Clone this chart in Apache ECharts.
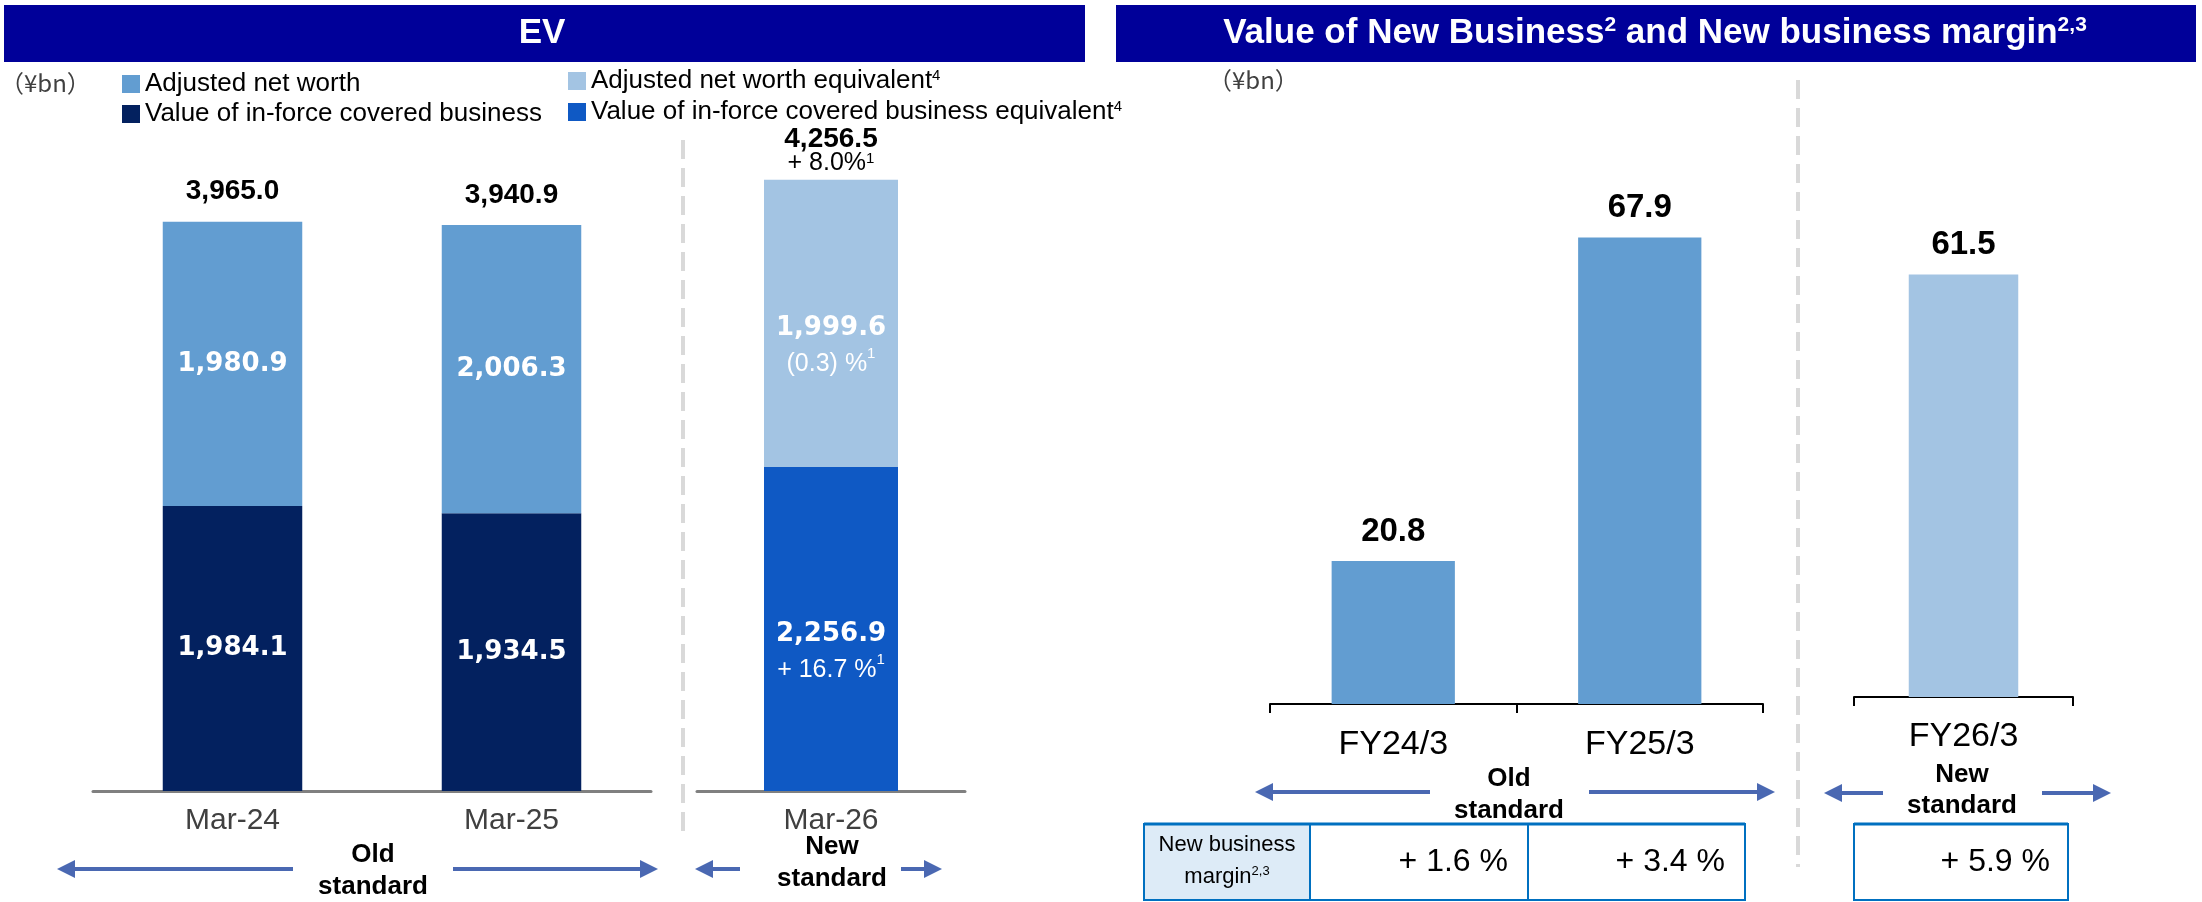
<!DOCTYPE html>
<html>
<head>
<meta charset="utf-8">
<script src="https://cdn.jsdelivr.net/npm/echarts@6/dist/echarts.min.js"></script>
<style>
  html, body { margin: 0; padding: 0; background: #fff; }
  #chart { width: 2202px; height: 902px; }
</style>
</head>
<body>
<div id="chart"></div>
<script>
// EV (stacked) - old standard
const evCategoriesOld = ['Mar-24', 'Mar-25'];
const vifOld = [1984.1, 1934.5];
const anwOld = [1980.9, 2006.3];
const evTotalOld = [3965.0, 3940.9];

// EV - new standard
const evCategoriesNew = ['Mar-26'];
const vifNew = [2256.9];
const anwNew = [1999.6];
const evTotalNew = [4256.5];
const vifNewChange = ['+ 16.7 %'];
const anwNewChange = ['(0.3) %'];
const evTotalNewChange = ['+ 8.0%'];

// Value of new business
const vnbCategoriesOld = ['FY24/3', 'FY25/3'];
const vnbOld = [20.8, 67.9];
const vnbCategoriesNew = ['FY26/3'];
const vnbNew = [61.5];

// New business margin table
const marginOld = ['+ 1.6 %', '+ 3.4 %'];
const marginNew = ['+ 5.9 %'];

const FONT = '"Liberation Sans", Arial, sans-serif';
const WIDE = '"DejaVu Sans", Verdana, sans-serif';
const C = {
  header: '#000099',
  anw: '#629dd1',
  vif: '#03215f',
  anwEq: '#a3c4e3',
  vifEq: '#0f59c4',
  arrow: '#4a68b2',
  dash: '#d9d9d9',
  table: '#0070c0',
  tableFill: '#ddebf7'
};

const fmt = v => v.toLocaleString('en-US', { minimumFractionDigits: 1, maximumFractionDigits: 1 });
const sup = (size) => ({ fontSize: size, verticalAlign: 'top', lineHeight: size, fontFamily: FONT });

const innerLabel = {
  show: true,
  position: 'inside',
  color: '#fff',
  fontFamily: WIDE,
  fontWeight: 'bold',
  fontSize: 26,
  formatter: p => fmt(p.value)
};

function innerChangeLabel(changes) {
  return {
    show: true,
    position: 'inside',
    offset: [0, 23],
    formatter: p => `{v|${fmt(p.value)}}\n{c|${changes[p.dataIndex]}}{s|1}`,
    rich: {
      v: { color: '#fff', fontFamily: WIDE, fontWeight: 'bold', fontSize: 26, lineHeight: 36 },
      c: { color: '#fff', fontFamily: FONT, fontSize: 25, lineHeight: 36 },
      s: Object.assign({ color: '#fff' }, sup(15))
    }
  };
}

// arrow from x1 (line start) to tip x2
function arrow(x1, x2, y) {
  const dir = Math.sign(x2 - x1);
  const head = 18;
  return [
    { type: 'line', shape: { x1: x1, y1: y, x2: x2 - dir * head, y2: y }, style: { stroke: C.arrow, lineWidth: 4 } },
    { type: 'polygon', shape: { points: [[x2, y], [x2 - dir * head, y - 9], [x2 - dir * head, y + 9]] }, style: { fill: C.arrow } }
  ];
}

function text(x, y, str, opts) {
  return {
    type: 'text',
    x: x, y: y,
    style: Object.assign({
      text: str,
      fontFamily: FONT,
      fontSize: 24,
      fill: '#000',
      align: 'center',
      verticalAlign: 'middle'
    }, opts || {})
  };
}

function hiddenY(idx, max) {
  return { type: 'value', gridIndex: idx, min: 0, max: max, show: false, splitLine: { show: false } };
}

const evAxisStyle = {
  axisLine: { lineStyle: { color: '#808080', width: 3 } },
  axisTick: { show: false },
  axisLabel: { color: '#404040', fontSize: 30, fontFamily: FONT, margin: 15 }
};
const vnbAxisStyle = {
  axisLine: { lineStyle: { color: '#000', width: 2 } },
  axisTick: { show: true, length: 9, lineStyle: { color: '#000', width: 2 } },
  axisLabel: { color: '#000', fontSize: 34, fontFamily: FONT, margin: 24 }
};

const chart = echarts.init(document.getElementById('chart'));

const graphics = [
  // header bands
  { type: 'rect', shape: { x: 4, y: 5, width: 1081, height: 57 }, style: { fill: C.header } },
  { type: 'rect', shape: { x: 1116, y: 5, width: 1080, height: 57 }, style: { fill: C.header } },
  text(542, 33, 'EV', { fill: '#fff', fontWeight: 'bold', fontSize: 35 }),
  text(1655, 33, '{t|Value of New Business}{s|2}{t| and New business margin}{s|2,3}', {
    rich: {
      t: { fill: '#fff', fontWeight: 'bold', fontSize: 35, fontFamily: FONT, lineHeight: 36 },
      s: Object.assign({ fill: '#fff', fontWeight: 'bold' }, sup(21))
    }
  }),
  // units
  text(0, 83, '（¥bn）', { align: 'left', fontSize: 24, fill: '#404040', fontFamily: '"Noto Sans CJK JP", ' + FONT }),
  text(1208, 80, '（¥bn）', { align: 'left', fontSize: 24, fill: '#404040', fontFamily: '"Noto Sans CJK JP", ' + FONT }),
  // dashed dividers
  { type: 'line', shape: { x1: 683, y1: 140, x2: 683, y2: 840 }, style: { stroke: C.dash, lineWidth: 4, lineDash: [19, 9] } },
  { type: 'line', shape: { x1: 1798, y1: 80, x2: 1798, y2: 867 }, style: { stroke: C.dash, lineWidth: 4, lineDash: [19, 9] } },
  // standard arrows + labels
  ...arrow(293, 57, 869), ...arrow(453, 658, 869),
  text(373, 871, 'Old\nstandard', { fontWeight: 'bold', fontSize: 26, lineHeight: 32 }),
  ...arrow(740, 695, 869), ...arrow(901, 942, 869),
  text(832, 863, 'New\nstandard', { fontWeight: 'bold', fontSize: 26, lineHeight: 32 }),
  ...arrow(1430, 1255, 792), ...arrow(1589, 1775, 792),
  text(1509, 795, 'Old\nstandard', { fontWeight: 'bold', fontSize: 26, lineHeight: 32 }),
  ...arrow(1883, 1824, 793), ...arrow(2042, 2111, 793),
  text(1962, 790, 'New\nstandard', { fontWeight: 'bold', fontSize: 26, lineHeight: 31 }),
  // margin table (old)
  { type: 'rect', shape: { x: 1144, y: 824, width: 166, height: 76 }, style: { fill: C.tableFill } },
  { type: 'rect', shape: { x: 1144, y: 824, width: 601, height: 76 }, style: { fill: 'none', stroke: C.table, lineWidth: 2 } },
  { type: 'line', shape: { x1: 1144, y1: 824, x2: 1745, y2: 824 }, style: { stroke: C.table, lineWidth: 3 } },
  { type: 'line', shape: { x1: 1310, y1: 824, x2: 1310, y2: 900 }, style: { stroke: C.table, lineWidth: 2 } },
  { type: 'line', shape: { x1: 1528, y1: 824, x2: 1528, y2: 900 }, style: { stroke: C.table, lineWidth: 2 } },
  text(1227, 845, 'New business', { fontSize: 22 }),
  text(1227, 877, '{t|margin}{s|2,3}', { rich: { t: { fontSize: 22, fontFamily: FONT, lineHeight: 24 }, s: sup(13) } }),
  text(1508, 862, marginOld[0], { align: 'right', fontSize: 32 }),
  text(1725, 862, marginOld[1], { align: 'right', fontSize: 32 }),
  // margin table (new)
  { type: 'rect', shape: { x: 1854, y: 824, width: 214, height: 76 }, style: { fill: 'none', stroke: C.table, lineWidth: 2 } },
  { type: 'line', shape: { x1: 1854, y1: 824, x2: 2068, y2: 824 }, style: { stroke: C.table, lineWidth: 3 } },
  text(2050, 862, marginNew[0], { align: 'right', fontSize: 32 })
];

const option = {
  animation: false,
  backgroundColor: '#fff',
  textStyle: { fontFamily: FONT },
  grid: [
    { left: 93, top: 73, width: 558, height: 718 },
    { left: 697, top: 73, width: 268, height: 718 },
    { left: 1270, top: 17, width: 493, height: 687 },
    { left: 1854, top: 10, width: 219, height: 687 }
  ],
  xAxis: [
    Object.assign({ type: 'category', gridIndex: 0, data: evCategoriesOld }, evAxisStyle),
    Object.assign({ type: 'category', gridIndex: 1, data: evCategoriesNew }, evAxisStyle),
    Object.assign({ type: 'category', gridIndex: 2, data: vnbCategoriesOld }, vnbAxisStyle),
    Object.assign({ type: 'category', gridIndex: 3, data: vnbCategoriesNew }, vnbAxisStyle, {
      axisLabel: Object.assign({}, vnbAxisStyle.axisLabel, { margin: 23 })
    })
  ],
  yAxis: [hiddenY(0, 5000), hiddenY(1, 5000), hiddenY(2, 100), hiddenY(3, 100)],
  legend: [
    {
      data: ['Adjusted net worth', 'Value of in-force covered business'],
      orient: 'vertical', left: 122, top: 71, padding: 0,
      icon: 'rect', itemWidth: 18, itemHeight: 18, itemGap: 4,
      selectedMode: false,
      textStyle: { fontSize: 26, color: '#000', fontFamily: FONT, lineHeight: 26 }
    },
    {
      data: ['Adjusted net worth equivalent', 'Value of in-force covered business equivalent'],
      orient: 'vertical', left: 568, top: 68, padding: 0,
      icon: 'rect', itemWidth: 18, itemHeight: 18, itemGap: 5,
      selectedMode: false,
      formatter: name => `{n|${name}}{s|4}`,
      textStyle: {
        fontSize: 26, color: '#000', fontFamily: FONT, lineHeight: 26,
        rich: { n: { fontSize: 26, fontFamily: FONT, lineHeight: 26, color: '#000' }, s: Object.assign({ color: '#000' }, sup(15)) }
      }
    }
  ],
  series: [
    {
      name: 'Value of in-force covered business', type: 'bar', xAxisIndex: 0, yAxisIndex: 0,
      stack: 'evOld', barWidth: '50%', data: vifOld,
      itemStyle: { color: C.vif }, label: innerLabel
    },
    {
      name: 'Adjusted net worth', type: 'bar', xAxisIndex: 0, yAxisIndex: 0,
      stack: 'evOld', barWidth: '50%', data: anwOld,
      itemStyle: { color: C.anw }, label: innerLabel
    },
    {
      name: 'EV total (old)', type: 'bar', xAxisIndex: 0, yAxisIndex: 0,
      stack: 'evOld', barWidth: '50%', data: evTotalOld.map(() => 0),
      label: {
        show: true, position: 'top', distance: 16,
        color: '#000', fontFamily: FONT, fontWeight: 'bold', fontSize: 28, lineHeight: 28,
        formatter: p => fmt(evTotalOld[p.dataIndex])
      }
    },
    {
      name: 'Value of in-force covered business equivalent', type: 'bar', xAxisIndex: 1, yAxisIndex: 1,
      stack: 'evNew', barWidth: '50%', data: vifNew,
      itemStyle: { color: C.vifEq }, label: innerChangeLabel(vifNewChange)
    },
    {
      name: 'Adjusted net worth equivalent', type: 'bar', xAxisIndex: 1, yAxisIndex: 1,
      stack: 'evNew', barWidth: '50%', data: anwNew,
      itemStyle: { color: C.anwEq }, label: innerChangeLabel(anwNewChange)
    },
    {
      name: 'EV total (new)', type: 'bar', xAxisIndex: 1, yAxisIndex: 1,
      stack: 'evNew', barWidth: '50%', data: evTotalNew.map(() => 0),
      label: {
        show: true, position: 'top', distance: 6,
        formatter: p => `{t|${fmt(evTotalNew[p.dataIndex])}}\n{c|${evTotalNewChange[p.dataIndex]}}{s|1}`,
        rich: {
          t: { color: '#000', fontFamily: FONT, fontWeight: 'bold', fontSize: 28, lineHeight: 24 },
          c: { color: '#000', fontFamily: FONT, fontSize: 25, lineHeight: 22 },
          s: Object.assign({ color: '#000' }, sup(15))
        }
      }
    },
    {
      name: 'Value of New Business', type: 'bar', xAxisIndex: 2, yAxisIndex: 2,
      barWidth: '50%', data: vnbOld, itemStyle: { color: C.anw },
      label: {
        show: true, position: 'top', distance: 13,
        color: '#000', fontFamily: FONT, fontWeight: 'bold', fontSize: 33, lineHeight: 33,
        formatter: p => fmt(p.value)
      }
    },
    {
      name: 'Value of New Business (new)', type: 'bar', xAxisIndex: 3, yAxisIndex: 3,
      barWidth: '50%', data: vnbNew, itemStyle: { color: C.anwEq },
      label: {
        show: true, position: 'top', distance: 13,
        color: '#000', fontFamily: FONT, fontWeight: 'bold', fontSize: 33, lineHeight: 33,
        formatter: p => fmt(p.value)
      }
    }
  ],
  graphic: graphics
};

chart.setOption(option);
</script>
</body>
</html>
